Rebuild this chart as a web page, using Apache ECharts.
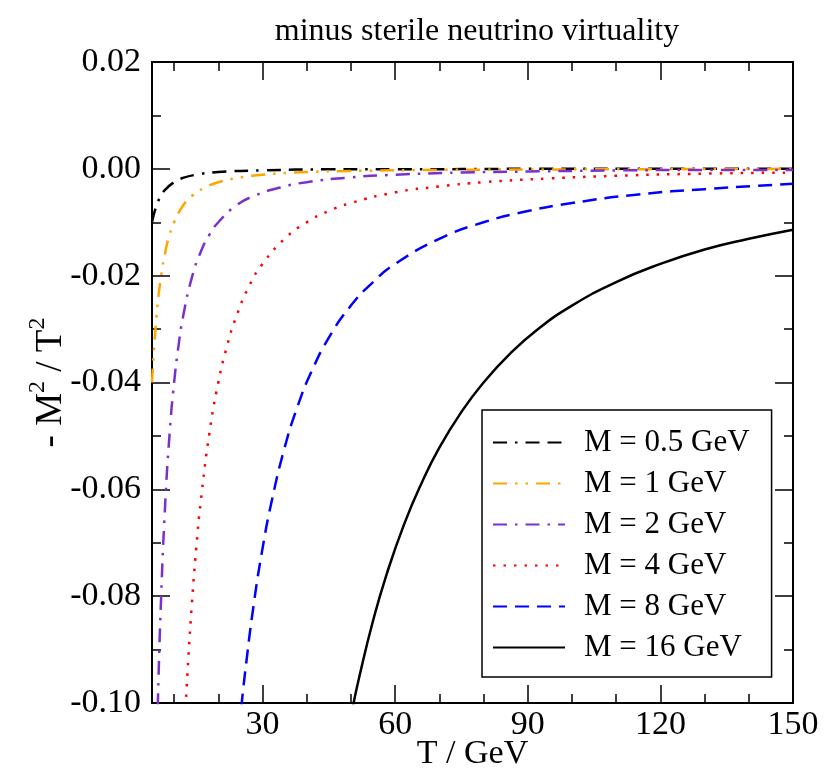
<!DOCTYPE html>
<html>
<head>
<meta charset="utf-8">
<script src="https://cdn.jsdelivr.net/npm/echarts@6/dist/echarts.min.js"></script>
<style>
  html, body { margin: 0; padding: 0; background: #fff; }
  #chart { width: 824px; height: 771px; }
</style>
</head>
<body>
<div id="chart"></div>
<script>
// values: [T, -M^2/T^2]
const m05 = [[5, -0.0100], [6, -0.0069], [7, -0.0051], [8, -0.0039], [10, -0.0025], [12, -0.0017],
  [15, -0.0011], [20, -0.0006], [30, -0.0003], [45, -0.0001], [60, -0.0001], [90, 0.0000], [120, 0.0000], [150, 0.0000]];
const m1 = [[5, -0.0400], [6, -0.0278], [7, -0.0204], [8, -0.0156], [9, -0.0123], [10, -0.0100], [12, -0.0069],
  [14, -0.0051], [17, -0.0035], [20, -0.0025], [25, -0.0016], [30, -0.0011], [40, -0.0006], [50, -0.0004],
  [70, -0.0002], [100, -0.0001], [150, 0.0000]];
const m2 = [[6.3, -0.1008], [7, -0.0816], [8, -0.0625], [9, -0.0494], [10, -0.0400], [11, -0.0331], [12, -0.0278],
  [14, -0.0204], [16, -0.0156], [18, -0.0123], [20, -0.0100], [24, -0.0069], [28, -0.0051], [34, -0.0035],
  [40, -0.0025], [50, -0.0016], [60, -0.0011], [75, -0.0007], [90, -0.0005], [110, -0.0003], [130, -0.0002], [150, -0.0002]];
const m4 = [[12.6, -0.1008], [13, -0.0947], [14, -0.0816], [15, -0.0711], [16, -0.0625], [18, -0.0494], [20, -0.0400],
  [22, -0.0331], [24, -0.0278], [27, -0.0219], [30, -0.0178], [35, -0.0131], [40, -0.0100], [45, -0.0079],
  [50, -0.0064], [60, -0.0044], [70, -0.0033], [80, -0.0025], [95, -0.0018], [110, -0.0013], [130, -0.0009], [150, -0.0007]];
const m8 = [[25.2, -0.1008], [26, -0.0947], [28, -0.0816], [30, -0.0711], [32, -0.0625], [35, -0.0522], [38, -0.0443],
  [41, -0.0381], [45, -0.0316], [50, -0.0256], [55, -0.0212], [60, -0.0178], [70, -0.0131], [80, -0.0100],
  [90, -0.0079], [100, -0.0064], [115, -0.0048], [130, -0.0038], [150, -0.0028]];
const m16 = [[50.5, -0.1004], [52, -0.0947], [55, -0.0846], [58, -0.0761], [62, -0.0666], [66, -0.0588], [70, -0.0522],
  [75, -0.0455], [80, -0.0400], [86, -0.0346], [92, -0.0302], [100, -0.0256], [110, -0.0212], [120, -0.0178],
  [130, -0.0151], [140, -0.0131], [150, -0.0114]];

const seriesNames = ['M = 0.5 GeV', 'M = 1 GeV', 'M = 2 GeV', 'M = 4 GeV', 'M = 8 GeV', 'M = 16 GeV'];
const xMajor = [30, 60, 90, 120, 150];
const xMinor = [10, 20, 40, 50, 70, 80, 100, 110, 130, 140];

const font = "'Liberation Serif', 'Times New Roman', serif";
const black = '#000';

const chart = echarts.init(document.getElementById('chart'));

function xAxisDef(pos, ticks, len, withLabels) {
  return {
    type: 'value',
    position: pos,
    min: 5,
    max: 150,
    axisLine: { show: true, onZero: false, lineStyle: { color: black, width: 2 } },
    axisTick: { show: true, inside: true, length: len, customValues: ticks, lineStyle: { color: black, width: 1.5 } },
    axisLabel: withLabels
      ? { show: true, customValues: ticks, color: black, fontFamily: font, fontSize: 34, margin: 5 }
      : { show: false },
    splitLine: { show: false }
  };
}

function yAxisDef(pos, withLabels) {
  return {
    type: 'value',
    position: pos,
    min: -0.1,
    max: 0.02,
    interval: 0.02,
    axisLine: { show: true, onZero: false, lineStyle: { color: black, width: 2 } },
    axisTick: { show: true, inside: true, length: 18, lineStyle: { color: black, width: 1.5 } },
    minorTick: { show: true, splitNumber: 2, length: 9, lineStyle: { color: black, width: 1.5 } },
    axisLabel: withLabels ? {
      show: true, color: black, fontFamily: font, fontSize: 34, margin: 11,
      formatter: v => (Math.abs(v) < 1e-9 ? 0 : v).toFixed(2)
    } : { show: false },
    splitLine: { show: false },
    minorSplitLine: { show: false }
  };
}

const styles = [
  { color: '#000000', type: [14, 8, 2.5, 8, 14, 8] },
  { color: '#ffa500', type: [14, 8, 2.5, 8, 2.5, 8] },
  { color: '#7b2fcf', type: [14, 8, 2.5, 8] },
  { color: '#ff0000', type: [2.5, 8] },
  { color: '#0000ff', type: [14, 8] },
  { color: '#000000', type: 'solid' }
];
const datasets = [m05, m1, m2, m4, m8, m16];

const option = {
  animation: false,
  backgroundColor: '#fff',
  title: {
    text: 'minus sterile neutrino virtuality',
    left: 472,
    textAlign: 'center',
    top: 11,
    textStyle: { fontFamily: font, fontWeight: 'normal', fontSize: 32, color: black }
  },
  grid: { left: 152, top: 62, right: 31, bottom: 68, outerBoundsMode: 'none', containLabel: false },
  xAxis: [
    Object.assign(xAxisDef('bottom', xMajor, 18, true), {
      name: 'T / GeV',
      nameLocation: 'middle',
      nameGap: 34,
      nameMoveOverlap: false,
      nameTextStyle: { fontFamily: font, fontSize: 34, color: black }
    }),
    xAxisDef('bottom', xMinor, 9, false),
    xAxisDef('top', xMajor, 18, false),
    xAxisDef('top', xMinor, 9, false)
  ],
  yAxis: [
    Object.assign(yAxisDef('left', true), {
      name: '{a|- M}{s|2}{a| / T}{s|2}',
      nameLocation: 'middle',
      nameGap: 82,
      nameMoveOverlap: false,
      nameTextStyle: {
        fontFamily: font, color: black,
        rich: {
          a: { fontFamily: font, fontSize: 37, color: black, lineHeight: 44, verticalAlign: 'bottom' },
          s: { fontFamily: font, fontSize: 24, color: black, lineHeight: 24, verticalAlign: 'top' }
        }
      }
    }),
    yAxisDef('right', false)
  ],
  legend: {
    orient: 'vertical',
    left: 482,
    top: 410,
    data: seriesNames,
    itemWidth: 72,
    itemHeight: 14,
    itemGap: 10,
    padding: [17, 22, 14, 10],
    borderColor: black,
    borderWidth: 1.5,
    borderRadius: 0,
    backgroundColor: '#fff',
    itemStyle: { opacity: 0 },
    textStyle: { fontFamily: font, fontSize: 31, color: black, lineHeight: 30, padding: [0, 0, 0, 14] }
  },
  series: datasets.map((d, i) => ({
    name: seriesNames[i],
    type: 'line',
    data: d,
    xAxisIndex: 0,
    yAxisIndex: 0,
    symbol: 'none',
    smooth: 0.5,
    clip: true,
    color: styles[i].color,
    lineStyle: { color: styles[i].color, width: 2.5, type: styles[i].type }
  }))
};

chart.setOption(option);
</script>
</body>
</html>
